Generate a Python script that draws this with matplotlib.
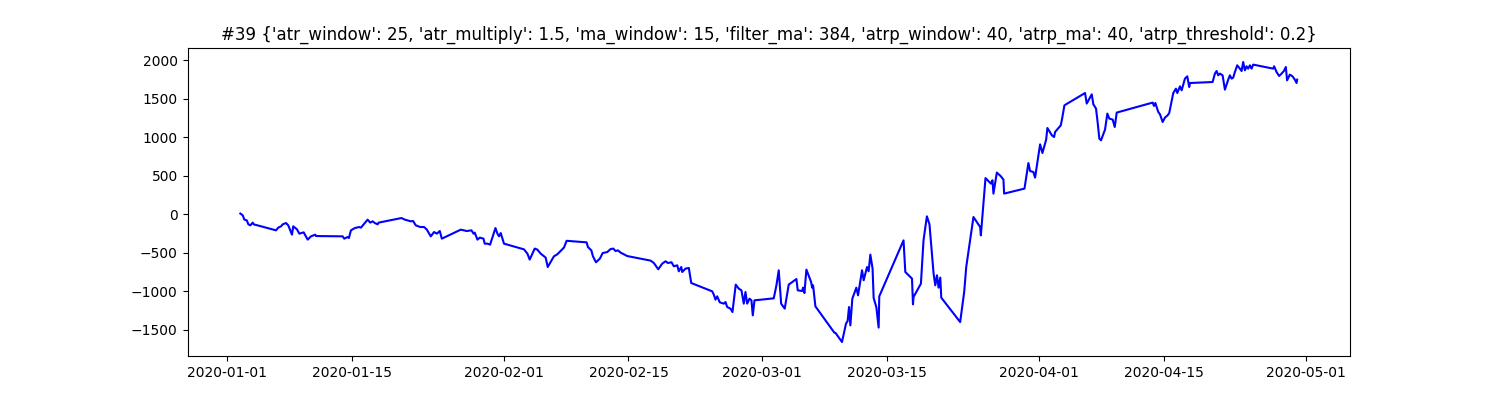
import numpy as np
import pandas as pd
from matplotlib import pyplot as plt

# equity curve of one parameter set
# time = days since 2020-01-01 00:00
days = [
    1.49, 1.76, 1.94, 2.21, 2.39, 2.61, 2.88, 2.99, 5.49, 5.74,
    6.05, 6.24, 6.61, 6.86, 7.28, 7.42, 7.84, 8.10, 8.59, 9.04,
    9.41, 9.89, 9.97, 12.96, 13.14, 13.52, 13.66, 13.89, 14.33, 14.82,
    15.01, 15.76, 16.05, 16.32, 16.57, 16.88, 16.99, 19.56, 19.93, 20.60,
    20.86, 21.16, 21.65, 22.09, 22.40, 22.84, 23.21, 23.52, 23.85, 24.08,
    26.20, 26.88, 27.40, 27.63, 27.77, 28.07, 28.33, 28.75, 28.89, 29.19,
    29.49, 30.09, 30.31, 30.49, 30.68, 31.05, 33.29, 33.67, 33.93, 34.49,
    34.79, 35.16, 35.72, 35.95, 36.65, 37.03, 37.77, 38.07, 40.31, 40.46,
    40.84, 41.02, 41.36, 41.80, 42.11, 42.63, 43.00, 43.30, 43.56, 43.82,
    44.12, 44.71, 44.87, 47.48, 47.85, 48.34, 48.79, 49.16, 49.42, 49.83,
    50.09, 50.47, 50.65, 50.92, 51.03, 51.40, 51.77, 52.04, 54.39, 54.57,
    54.76, 54.95, 55.24, 55.69, 55.88, 56.07, 56.44, 56.66, 57.03, 57.37,
    57.67, 57.93, 58.12, 58.31, 58.57, 58.79, 58.94, 59.13, 61.29, 61.59,
    61.85, 62.12, 62.52, 62.97, 63.83, 63.98, 64.47, 64.58, 64.73, 64.95,
    65.48, 65.59, 65.70, 65.96, 68.08, 68.23, 68.94, 69.39, 69.57, 69.73,
    69.88, 70.10, 70.55, 70.74, 71.19, 71.37, 71.75, 71.93, 72.12, 72.37,
    72.49, 72.79, 73.05, 73.12, 75.84, 76.04, 76.79, 76.90, 76.96, 77.79,
    78.08, 78.46, 78.75, 79.21, 79.40, 79.59, 79.77, 79.96, 80.07, 82.19,
    82.64, 82.87, 83.68, 84.43, 84.51, 85.03, 85.63, 85.81, 85.92, 86.30,
    86.75, 87.04, 87.12, 89.40, 89.84, 90.03, 90.40, 90.59, 91.15, 91.41,
    91.83, 91.97, 92.47, 92.72, 92.83, 93.47, 93.62, 93.88, 96.19, 96.38,
    96.94, 97.12, 97.42, 97.61, 97.79, 97.98, 98.43, 98.69, 98.91, 99.29,
    99.52, 99.74, 103.77, 103.92, 104.07, 104.40, 104.59, 104.89, 105.15, 105.45,
    105.63, 106.08, 106.38, 106.53, 106.83, 107.02, 107.39, 107.65, 107.87, 107.95,
    110.49, 110.75, 110.94, 111.12, 111.31, 111.61, 111.87, 112.24, 112.43, 112.62,
    112.80, 112.99, 113.25, 113.55, 113.74, 113.92, 114.11, 114.30, 114.48, 114.67,
    114.86, 115.04, 117.28, 117.39, 117.66, 117.95, 118.22, 118.48, 118.70, 118.84,
    119.15, 119.45, 119.71, 119.90, 119.97,
]
pnl = [
    10, -13, -69, -78, -130, -143, -108, -130, -208, -173,
    -156, -130, -113, -143, -264, -156, -195, -251, -234, -329,
    -286, -264, -282, -286, -316, -295, -308, -208, -178, -165,
    -173, -69, -108, -91, -113, -130, -108, -48, -69, -91,
    -87, -143, -165, -165, -199, -286, -230, -251, -217, -316,
    -199, -217, -208, -251, -238, -329, -303, -316, -381, -381,
    -394, -178, -251, -286, -243, -381, -455, -510, -588, -445,
    -458, -510, -562, -684, -545, -519, -432, -344, -364, -425,
    -468, -545, -623, -575, -503, -490, -451, -445, -477, -468,
    -497, -532, -542, -601, -632, -714, -640, -610, -632, -623,
    -675, -662, -740, -684, -749, -705, -697, -892, -1000, -1043,
    -1108, -1065, -1143, -1160, -1139, -1204, -1225, -1269, -913, -965,
    -987, -1160, -1009, -1160, -1095, -1117, -1312, -1117, -1091, -922,
    -727, -1160, -1225, -913, -840, -987, -996, -952, -1022, -718,
    -879, -952, -922, -1195, -1536, -1542, -1658, -1420, -1386, -1204,
    -1442, -1095, -952, -1052, -727, -857, -684, -740, -523, -705,
    -1087, -1204, -1471, -1065, -338, -749, -835, -1169, -1074, -900,
    -338, -26, -130, -770, -922, -792, -952, -822, -1082, -1399,
    -1009, -684, -35, -165, -273, 471, 399, 442, 269, 542,
    494, 451, 269, 334, 666, 562, 549, 477, 909, 796,
    970, 1121, 1026, 1004, 1069, 1156, 1243, 1416, 1575, 1438,
    1558, 1429, 1373, 1186, 983, 961, 1100, 1308, 1243, 1230,
    1134, 1321, 1451, 1407, 1446, 1329, 1299, 1199, 1256, 1286,
    1316, 1575, 1632, 1575, 1662, 1610, 1762, 1792, 1653, 1705,
    1718, 1827, 1861, 1805, 1827, 1805, 1619, 1749, 1805, 1762,
    1775, 1848, 1935, 1892, 1861, 1978, 1870, 1922, 1892, 1935,
    1892, 1944, 1892, 1922, 1848, 1796, 1827, 1861, 1913, 1740,
    1814, 1792, 1749, 1705, 1749,
]

params = "{'atr_window': 25, 'atr_multiply': 1.5, 'ma_window': 15, 'filter_ma': 384, " \
         "'atrp_window': 40, 'atrp_ma': 40, 'atrp_threshold': 0.2}"

t = pd.Timestamp('2020-01-01') + pd.to_timedelta(np.array(days), unit='D')

fig = plt.figure(figsize=(15, 4), dpi=100)
plt.plot(t, pnl, color='blue')
plt.title('#39 ' + params)
plt.savefig('out.png')
